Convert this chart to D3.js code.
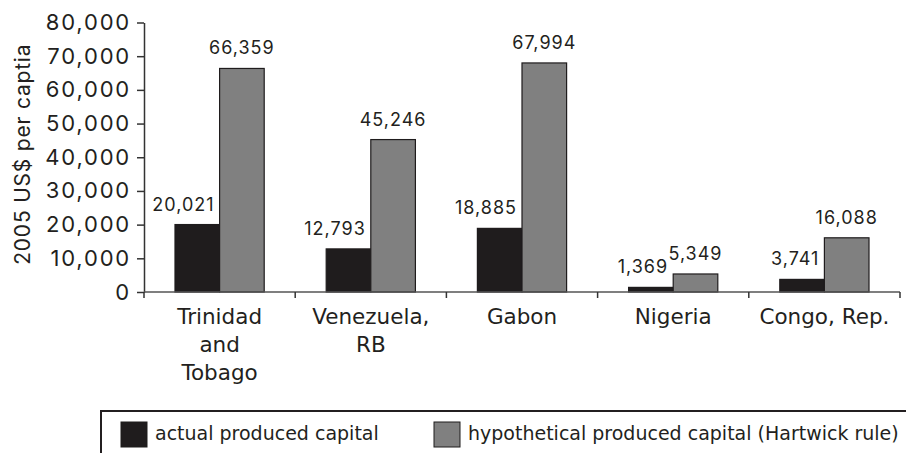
<!DOCTYPE html>
<html>
<head>
<meta charset="utf-8">
<script src="https://cdn.jsdelivr.net/npm/d3@7"></script>
<style>
  html, body { margin: 0; padding: 0; background: #fff; }
  svg { display: block; }
  .num { font-family: Inter, "Noto Sans", sans-serif; fill: #231f20; }
  .cond { font-family: "DejaVu Sans", sans-serif; fill: #231f20; }
</style>
</head>
<body>
<svg id="chart" width="906" height="453"></svg>
<script>
// Produced capital per capita, 2005 US$
const countries = [["Trinidad", "and", "Tobago"], ["Venezuela,", "RB"], ["Gabon"], ["Nigeria"], ["Congo, Rep."]];
const seriesNames = ["actual produced capital", "hypothetical produced capital (Hartwick rule)"];
const actualCapital = [20021, 12793, 18885, 1369, 3741];
const hartwickCapital = [66359, 45246, 67994, 5349, 16088];
const yTicks = [0, 10000, 20000, 30000, 40000, 50000, 60000, 70000, 80000];
const yTitle = "2005 US$ per captia";

const colors = ["#1f1c1d", "#808080"];
const fmt = d3.format(",");

const svg = d3.select("#chart");
const margin = { left: 144, right: 6, top: 22.5, bottom: 161 };
const W = 906, H = 453;

const keys = countries.map(c => c.join(" "));
const x0 = d3.scaleBand().domain(keys).range([margin.left, W - margin.right]).padding(0);
const bw = x0.bandwidth();
const x1 = d3.scaleBand().domain(seriesNames).range([bw * 0.205, bw * 0.795]).padding(0);
const y = d3.scaleLinear().domain([0, 80000]).range([H - margin.bottom, margin.top]);

const rows = keys.map((k, i) => ({ key: k, lines: countries[i], values: [actualCapital[i], hartwickCapital[i]] }));

// Bars
const groups = svg.append("g").selectAll("g").data(rows).join("g")
  .attr("transform", d => `translate(${x0(d.key)},0)`);

groups.selectAll("rect").data(d => d.values.map((v, j) => ({ v, j }))).join("rect")
  .attr("x", d => x1(seriesNames[d.j]))
  .attr("y", d => y(d.v))
  .attr("width", x1.bandwidth())
  .attr("height", d => y(0) - y(d.v))
  .attr("fill", d => colors[d.j])
  .attr("stroke", "#1f1c1d")
  .attr("stroke-width", 1.2);

// Value labels
groups.selectAll("text.val").data(d => d.values.map((v, j) => ({ v, j }))).join("text")
  .attr("class", "val num")
  .attr("x", d => d.j === 0 ? x1(seriesNames[0]) + x1.bandwidth() - 5 : x1(seriesNames[1]) + x1.bandwidth() / 2)
  .attr("y", d => y(d.v) - 14)
  .attr("text-anchor", d => d.j === 0 ? "end" : "middle")
  .attr("font-size", 18)
  .attr("letter-spacing", 1)
  .text(d => fmt(d.v));

// Y axis
const yAxis = svg.append("g")
  .attr("transform", `translate(${margin.left},0)`)
  .call(d3.axisLeft(y).tickValues(yTicks).tickFormat(fmt).tickSize(7).tickSizeOuter(0).tickPadding(6));
yAxis.select(".domain").attr("stroke", "#333").attr("stroke-width", 1.5);
yAxis.selectAll(".tick line").attr("stroke", "#333").attr("stroke-width", 1.5);
yAxis.selectAll(".tick text").attr("class", "num").attr("font-size", 22)
  .attr("letter-spacing", 1.8).attr("fill", "#231f20");

// X axis: ticks at category boundaries
const xAxisG = svg.append("g").attr("transform", `translate(0,${y(0)})`);
xAxisG.append("line")
  .attr("x1", margin.left).attr("x2", W - margin.right)
  .attr("stroke", "#555").attr("stroke-width", 1.5);
const boundaries = keys.map(k => x0(k)).concat([x0(keys[keys.length - 1]) + bw]);
xAxisG.selectAll("line.tk").data(boundaries).join("line")
  .attr("class", "tk")
  .attr("x1", d => d).attr("x2", d => d)
  .attr("y1", 0).attr("y2", 6)
  .attr("stroke", "#333").attr("stroke-width", 1.5);

// Category labels
const catLabels = xAxisG.selectAll("text.cat").data(rows).join("text")
  .attr("class", "cat cond")
  .attr("text-anchor", "middle")
  .attr("font-size", 21.5)
  .attr("transform", d => `translate(${x0(d.key) + bw / 2},32)`);
catLabels.selectAll("tspan").data(d => d.lines).join("tspan")
  .attr("x", 0)
  .attr("y", (d, i) => i * 28)
  .text(d => d);

// Y title
svg.append("text")
  .attr("class", "num")
  .attr("transform", `translate(30,${(y(0) + y(80000)) / 2 - 3}) rotate(-90)`)
  .attr("text-anchor", "middle")
  .attr("font-size", 21)
  .attr("letter-spacing", 0.8)
  .text(yTitle);

// Legend
const lg = svg.append("g");
lg.append("rect")
  .attr("x", 101).attr("y", 411)
  .attr("width", 830).attr("height", 80)
  .attr("fill", "none").attr("stroke", "#231f20").attr("stroke-width", 2);
const legendX = [121, 434];
const items = lg.selectAll("g.item").data(seriesNames).join("g")
  .attr("transform", (d, i) => `translate(${legendX[i]},422)`);
items.append("rect")
  .attr("width", 26).attr("height", 25)
  .attr("fill", (d, i) => colors[i])
  .attr("stroke", "#1f1c1d").attr("stroke-width", 1);
items.append("text")
  .attr("class", "cond")
  .attr("x", 34).attr("y", 18)
  .attr("font-size", 19)
  .text(d => d);
</script>
</body>
</html>
